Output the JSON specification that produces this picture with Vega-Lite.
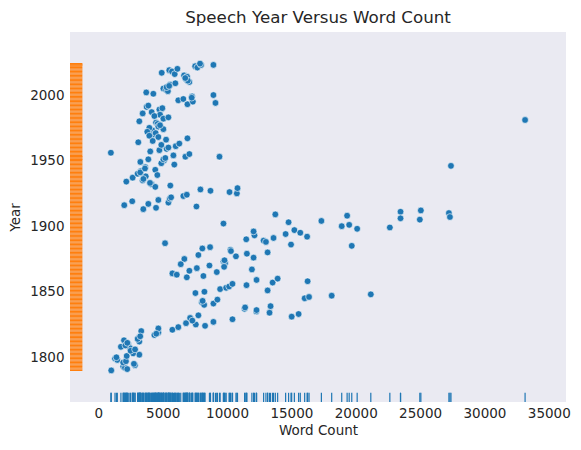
{
  "$schema": "https://vega.github.io/schema/vega-lite/v6.json",
  "width": 496,
  "height": 370,
  "autosize": {"type": "none"},
  "padding": {"left": 70, "top": 32, "right": 15, "bottom": 48},
  "background": "white",
  "config": {
    "view": {"fill": "#EAEAF2", "stroke": null},
    "font": "DejaVu Sans",
    "axis": {"ticks": false, "domain": false, "grid": false, "labelFontSize": 13.5, "titleFontSize": 13.5, "labelColor": "#262626", "titleColor": "#262626", "titleFontWeight": "normal"}
  },
  "title": {"text": "Speech Year Versus Word Count", "fontSize": 16.7, "fontWeight": "normal", "color": "#262626", "offset": 5, "anchor": "middle"},
  "data": {"values": [
    {"year":1790,"words":1000},{"year":1799,"words":1290},{"year":1798,"words":1470},{"year":1793,"words":1930},{"year":1792,"words":2060},{"year":1791,"words":2240},{"year":1796,"words":1930},{"year":1797,"words":2140},{"year":1801,"words":2200},{"year":1808,"words":1750},{"year":1813,"words":1990},{"year":1810,"words":2320},{"year":1807,"words":2450},{"year":1804,"words":2710},{"year":1794,"words":2840},{"year":1795,"words":2760},{"year":1802,"words":3180},{"year":1812,"words":3180},{"year":1815,"words":3150},{"year":1820,"words":3330},{"year":1817,"words":4350},{"year":1819,"words":4660},{"year":1822,"words":4660},{"year":1821,"words":5750},{"year":1823,"words":6210},{"year":1826,"words":6810},{"year":1830,"words":7130},{"year":1825,"words":7570},{"year":1832,"words":7770},{"year":1824,"words":8290},{"year":1827,"words":8940},{"year":1829,"words":10420},{"year":1837,"words":11360},{"year":1835,"words":12270},{"year":1849,"words":7540},{"year":1850,"words":8240},{"year":1842,"words":8040},{"year":1840,"words":8220},{"year":1841,"words":8940},{"year":1844,"words":9250},
    {"year":1800,"words":1400},{"year":1803,"words":2700},{"year":1805,"words":2500},{"year":1806,"words":2850},{"year":1809,"words":2100},{"year":1811,"words":2250},{"year":1814,"words":3050},{"year":1816,"words":3250},{"year":1818,"words":4500},{"year":1828,"words":7300},{"year":1836,"words":12290},{"year":1838,"words":11400},{"year":1843,"words":8100},
    {"year":1887,"words":5180},{"year":1883,"words":8080},{"year":1884,"words":8680},{"year":1875,"words":6680},{"year":1871,"words":6400},{"year":1878,"words":7770},{"year":1864,"words":5750},{"year":1863,"words":6090},{"year":1861,"words":6870},{"year":1866,"words":7070},{"year":1868,"words":7650},{"year":1862,"words":8160},{"year":1870,"words":8630},{"year":1865,"words":9200},{"year":1873,"words":9720},{"year":1872,"words":9850},{"year":1869,"words":9770},{"year":1882,"words":10260},{"year":1877,"words":10690},{"year":1890,"words":11490},{"year":1893,"words":12130},{"year":1896,"words":12060},{"year":1889,"words":12840},{"year":1888,"words":13020},{"year":1891,"words":13610},{"year":1880,"words":13150},{"year":1879,"words":11540},{"year":1876,"words":12060},{"year":1867,"words":11930},{"year":1894,"words":14550},{"year":1886,"words":14970},{"year":1897,"words":15230},{"year":1895,"words":15690},{"year":1892,"words":16220},{"year":1874,"words":9800},{"year":1881,"words":10300},
    {"year":1852,"words":9460},{"year":1853,"words":9930},{"year":1854,"words":10160},{"year":1856,"words":10420},{"year":1855,"words":11510},{"year":1859,"words":12290},{"year":1851,"words":13150},{"year":1857,"words":13540},{"year":1860,"words":13930},{"year":1858,"words":16260},{"year":1845,"words":16030},{"year":1846,"words":16370},{"year":1847,"words":18130},{"year":1834,"words":13300},{"year":1839,"words":13380},{"year":1831,"words":15020},{"year":1833,"words":15560},{"year":1885,"words":19690},{"year":1904,"words":17330},{"year":1908,"words":19330},{"year":1900,"words":18910},{"year":1901,"words":19490},{"year":1898,"words":20110},{"year":1899,"words":22650},{"year":1911,"words":23480},{"year":1906,"words":23480},{"year":1912,"words":25060},{"year":1905,"words":24980},{"year":1910,"words":27240},{"year":1907,"words":27320},{"year":1848,"words":21170},{"year":1909,"words":13750},{"year":1903,"words":14780},{"year":1902,"words":9720},
    {"year":1916,"words":2010},{"year":1919,"words":2630},{"year":1913,"words":3490},{"year":1917,"words":3880},{"year":1914,"words":4480},{"year":1920,"words":4660},{"year":1918,"words":5440},{"year":1915,"words":7620},{"year":1921,"words":5550},{"year":1956,"words":970},{"year":1934,"words":2170},{"year":1937,"words":2660},{"year":1940,"words":3050},{"year":1942,"words":3300},{"year":1935,"words":3440},{"year":1945,"words":3640},{"year":1938,"words":3680},{"year":1949,"words":3260},{"year":1951,"words":3880},{"year":1957,"words":4030},{"year":1943,"words":4420},{"year":1939,"words":4580},{"year":1932,"words":4140},{"year":1930,"words":4420},{"year":1936,"words":3500},{"year":1941,"words":3250},{"year":1944,"words":3620},{"year":1950,"words":5100},{"year":1959,"words":5300},{"year":1958,"words":4740},{"year":1962,"words":4890},{"year":1966,"words":5260},{"year":1960,"words":5440},{"year":1961,"words":6010},{"year":1963,"words":6290},{"year":1967,"words":6920},{"year":1948,"words":4890},{"year":1951,"words":5050},{"year":1952,"words":5200},{"year":1954,"words":5830},{"year":1947,"words":5900},{"year":1953,"words":6760},{"year":1955,"words":7070},{"year":1931,"words":5590},{"year":1953,"words":9410},{"year":1964,"words":3100},{"year":1922,"words":5650},{"year":1923,"words":6600},{"year":1924,"words":6870},{"year":1928,"words":7930},{"year":1927,"words":8710},{"year":1926,"words":10190},{"year":1925,"words":10760},{"year":1929,"words":10810},
    {"year":2002,"words":3720},{"year":2001,"words":4270},{"year":2017,"words":4920},{"year":2019,"words":5510},{"year":2018,"words":5720},{"year":2016,"words":5930},{"year":2020,"words":6140},{"year":2015,"words":6660},{"year":2012,"words":6810},{"year":2010,"words":7070},{"year":2014,"words":6890},{"year":2005,"words":5050},{"year":2004,"words":5260},{"year":2008,"words":5570},{"year":2009,"words":5980},{"year":2022,"words":7520},{"year":2021,"words":7690},{"year":2023,"words":7980},{"year":2023,"words":8940},{"year":2024,"words":7900},{"year":2003,"words":5400},{"year":2006,"words":5300},{"year":2007,"words":5500},{"year":2011,"words":6950},{"year":2013,"words":6750},{"year":1996,"words":6210},{"year":1997,"words":6600},{"year":1993,"words":6920},{"year":1999,"words":7280},{"year":1995,"words":7340},{"year":1998,"words":7250},{"year":2000,"words":8940},{"year":1994,"words":9100},{"year":1991,"words":3750},{"year":1992,"words":3880},{"year":1986,"words":3440},{"year":1987,"words":4140},{"year":1988,"words":4800},{"year":1989,"words":4740},{"year":1990,"words":4970},{"year":1985,"words":4790},{"year":1982,"words":5050},{"year":1983,"words":5440},{"year":1980,"words":3180},{"year":1984,"words":4350},{"year":1979,"words":4480},{"year":1978,"words":4600},{"year":1976,"words":4660},{"year":1974,"words":5050},{"year":1973,"words":4200},{"year":1975,"words":3960},{"year":1972,"words":3800},{"year":1970,"words":4300},{"year":1971,"words":4450},{"year":1969,"words":3960},{"year":1968,"words":4660},{"year":1965,"words":4220},{"year":1981,"words":33160},{"year":1946,"words":27400},{"year":1977,"words":4790},{"year":1933,"words":4010}
  ]},
  "layer": [
    {
      "mark": {"type": "circle", "size": 45, "color": "#1f77b4", "opacity": 1, "stroke": "white", "strokeWidth": 0.6},
      "encoding": {
        "x": {"field": "words", "type": "quantitative", "title": "Word Count", "scale": {"domain": [-2207, 36340], "nice": false, "zero": false}, "axis": {"values": [0, 5000, 10000, 15000, 20000, 25000, 30000, 35000], "format": "d", "labelPadding": 4, "titlePadding": 4}},
        "y": {"field": "year", "type": "quantitative", "title": "Year", "scale": {"domain": [1765.9, 2048.1], "nice": false, "zero": false}, "axis": {"values": [1800, 1850, 1900, 1950, 2000], "format": "d", "labelPadding": 6, "titlePadding": 7}}
      }
    },
    {
      "mark": {"type": "rule", "color": "#1f77b4", "strokeWidth": 1.2},
      "encoding": {
        "x": {"field": "words", "type": "quantitative", "title": "Word Count"},
        "y": {"value": 360.8},
        "y2": {"value": 370}
      }
    },
    {
      "mark": {"type": "rule", "color": "#ff7f0e", "strokeWidth": 1.2},
      "encoding": {
        "y": {"field": "year", "type": "quantitative", "title": "Year"},
        "x": {"value": 0},
        "x2": {"value": 12.4}
      }
    }
  ]
}
